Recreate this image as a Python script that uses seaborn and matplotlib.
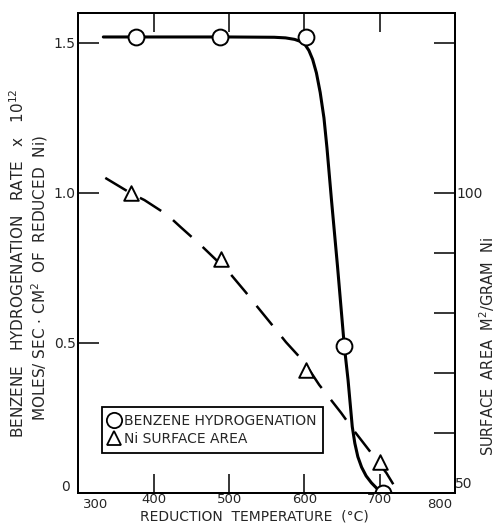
import matplotlib
matplotlib.use("Agg")
import matplotlib.pyplot as plt
from matplotlib.lines import Line2D
import seaborn as sns
import pandas as pd

# measured points (benzene hydrogenation rate x 1e12)
benz_temp = [377, 488, 602, 653, 704]
benz_rate = [1.52, 1.52, 1.52, 0.49, 0.0]

# smooth curve drawn through the rate points
benz_curve_t = [333, 400, 500, 560, 575, 587, 595, 601, 606, 611, 616, 621, 626,
                630, 636, 644, 653, 658, 663.6, 667, 671, 676, 682, 689, 696, 704]
benz_curve_r = [1.52, 1.52, 1.52, 1.519, 1.517, 1.512, 1.505, 1.494, 1.475, 1.445,
                1.40, 1.335, 1.25, 1.15, 0.976, 0.755, 0.49, 0.376, 0.22, 0.165,
                0.12, 0.085, 0.056, 0.033, 0.015, 0.0]

# Ni surface area, m2/g
ni_temp = [370, 489, 602, 701]
ni_area = [99.9, 89.0, 70.5, 55.2]

ni_curve_t = [335.6, 370, 387.6, 418.3, 435.6, 462.3, 499.6, 522.3, 535.6, 559.6,
              575.6, 599.6, 619.6, 648.9, 664.9, 688.9, 708.9, 724.9]
ni_curve_a = [102.5, 99.9, 98.8, 96.3, 94.3, 91.3, 86.8, 83.4, 81.3, 77.6,
              75.1, 71.8, 68.0, 63.3, 60.5, 56.6, 53.3, 50.0]

x_ticks = [300, 400, 500, 600, 700, 800]
y_ticks = [0.5, 1.0, 1.5]
area_ticks = [60, 70, 80, 90, 100, 125]

sns.set_style("ticks")
plt.rcParams["font.family"] = ["DejaVu Sans"]

fig = plt.figure(figsize=(4.98, 5.26), dpi=100)
ax = fig.add_axes([0.1576, 0.0633, 0.7560, 0.912])
ax2 = ax.twinx()

curve = pd.DataFrame({"t": benz_curve_t, "r": benz_curve_r})
sns.lineplot(data=curve, x="t", y="r", sort=False, color="black", lw=2.2, ax=ax, zorder=2)
pts = pd.DataFrame({"t": benz_temp, "r": benz_rate})
sns.scatterplot(data=pts, x="t", y="r", marker="o", s=130, facecolor="white",
                edgecolor="black", linewidth=1.4, ax=ax, zorder=3)

ni_curve = pd.DataFrame({"t": ni_curve_t, "a": ni_curve_a})
sns.lineplot(data=ni_curve, x="t", y="a", sort=False, color="black", lw=1.8,
             linestyle=(0, (10, 6)), ax=ax2, zorder=2)
ni_pts = pd.DataFrame({"t": ni_temp, "a": ni_area})
sns.scatterplot(data=ni_pts, x="t", y="a", marker="^", s=110, facecolor="white",
                edgecolor="black", linewidth=1.4, ax=ax2, zorder=3)
for c in ax.collections + ax2.collections:
    c.set_clip_on(True)
    c.set_clip_box(ax.bbox)

ax.set_xlim(300, 800)
ax.set_ylim(0, 1.6)
ax2.set_ylim(50, 130)

# end labels sit inside the corners, so they are written by hand
ax.set_xticks(x_ticks)
ax.set_xticklabels([str(v) if v not in (300, 800) else "" for v in x_ticks], fontsize=9.5)
ax.text(0.012, -0.012, "300", transform=ax.transAxes, fontsize=9.5, ha="left", va="top")
ax.text(0.993, -0.012, "800", transform=ax.transAxes, fontsize=9.5, ha="right", va="top")
ax.set_yticks(y_ticks)
ax.set_yticklabels([f"{v:.1f}" for v in y_ticks], fontsize=10)
ax2.set_yticks(area_ticks)
ax2.set_yticklabels(["100" if v == 100 else "" for v in area_ticks], fontsize=10)

ax.tick_params(axis="x", direction="in", length=14, width=1.3, pad=0,
               top=True, bottom=True)
ax.tick_params(axis="y", direction="in", length=15, width=1.3, pad=2)
ax2.tick_params(axis="y", direction="in", length=15, width=1.3, pad=1)
for a in (ax, ax2):
    for s in a.spines.values():
        s.set_visible(True)
        s.set_linewidth(1.4)
        s.set_color("black")
ax.set_xlabel("")
ax.set_ylabel("")
ax2.set_ylabel("")

ax.text(-0.035, 0.012, "0", transform=ax.transAxes, fontsize=10, ha="center", va="center")
ax.text(1.024, 0.018, "50", transform=ax.transAxes, fontsize=10, ha="center", va="center")

fig.text(254 / 498, 1 - 516 / 526, "REDUCTION  TEMPERATURE  (°C)", fontsize=10,
         ha="center", va="center")
fig.text(18 / 498, 1 - 263 / 526, r"BENZENE   HYDROGENATION   RATE   x   10$^{12}$",
         fontsize=11, rotation=90, ha="center", va="center")
fig.text(40 / 498, 1 - 278 / 526, r"MOLES/ SEC $\cdot$ CM$^{2}$  OF  REDUCED  Ni)",
         fontsize=11, rotation=90, ha="center", va="center")
fig.text(487 / 498, 1 - 346 / 526, r"SURFACE  AREA  M$^{2}$/GRAM  Ni",
         fontsize=10.5, rotation=90, ha="center", va="center")

handles = [
    Line2D([], [], ls="none", marker="o", ms=11, mfc="white", mec="black", mew=1.3),
    Line2D([], [], ls="none", marker="^", ms=10, mfc="white", mec="black", mew=1.3),
]
leg = ax.legend(handles, ["BENZENE HYDROGENATION", "Ni SURFACE AREA"],
                loc="lower left", bbox_to_anchor=(0.062, 0.083), borderaxespad=0,
                fontsize=10, handlelength=0.8, handletextpad=0.3, borderpad=0.5,
                labelspacing=0.3, fancybox=False, framealpha=1, edgecolor="black")
leg.get_frame().set_linewidth(1.3)

fig.savefig("out.png", dpi=100)
